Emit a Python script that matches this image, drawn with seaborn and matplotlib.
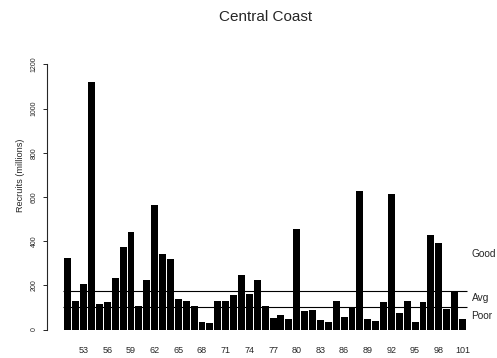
import matplotlib
matplotlib.use("Agg")
import matplotlib.pyplot as plt
import seaborn as sns
import pandas as pd

years = list(range(51, 102))
recruits = [322, 129, 207, 1121, 114, 126, 234, 375, 440, 108,
            224, 565, 340, 318, 137, 129, 108, 33, 28, 130,
            130, 155, 247, 161, 224, 108, 53, 66, 49, 453,
            85, 88, 42, 34, 129, 55, 103, 628, 46, 38,
            123, 615, 73, 131, 35, 124, 428, 393, 93, 174, 48]
tick_years = list(range(53, 102, 3))
avg_level = 176
poor_level = 101
title = "Central Coast"
ylabel = "Recruits (millions)"
level_labels = ["Good", "Avg", "Poor"]

sns.set_style("white")
plt.rcParams['font.family'] = ['Liberation Sans', 'DejaVu Sans']

W, H = 497, 358
fig = plt.figure(figsize=(W / 100, H / 100), dpi=100)
ax_left, ax_right = 59.96, 59.96 + 410.4
ax_top, ax_bot = 64.3, 329.5
ax = fig.add_axes([ax_left / W, (H - ax_bot) / H, (ax_right - ax_left) / W, (ax_bot - ax_top) / H])

df = pd.DataFrame({"year": [str(y) for y in years], "recruits": recruits})
sns.barplot(data=df, x="year", y="recruits", color="black", width=0.88,
            errorbar=None, ax=ax, edgecolor="none", saturation=1)

for s in ["top", "right", "bottom"]:
    ax.spines[s].set_visible(False)
ax.spines["left"].set_position(("outward", 9.6))
ax.spines["left"].set_linewidth(0.8)

n = len(years)
ax.set_xlim(-1, n)
ax.set_ylim(0, 1200)
ax.spines["left"].set_bounds(0, 1200)
ax.hlines([avg_level, poor_level], -0.6, n - 0.4, color="black", lw=0.8)

ax.set_xticks([years.index(y) for y in tick_years])
ax.set_xticklabels([str(y) for y in tick_years], fontsize=6.5)
ax.tick_params(axis="x", length=0, pad=12)
ax.set_yticks(range(0, 1201, 200))
ax.set_yticklabels([str(v) for v in range(0, 1201, 200)], fontsize=5, rotation=90, va="center")
ax.tick_params(axis="y", length=3, width=0.7, direction="out", pad=3.5, left=True)
ax.set_xlabel("")
ax.set_ylabel("")

fig.text(265.5 / W, 1 - 17 / H, title, ha="center", va="center", fontsize=11)
fig.text(21 / W, 1 - 175 / H, ylabel, ha="center", va="center", rotation=90, fontsize=6.6)
for lab, yp in zip(level_labels, [254, 298, 316]):
    fig.text(471.5 / W, 1 - yp / H, lab, ha="left", va="center", fontsize=7.3)

fig.savefig("out.png", dpi=100)
